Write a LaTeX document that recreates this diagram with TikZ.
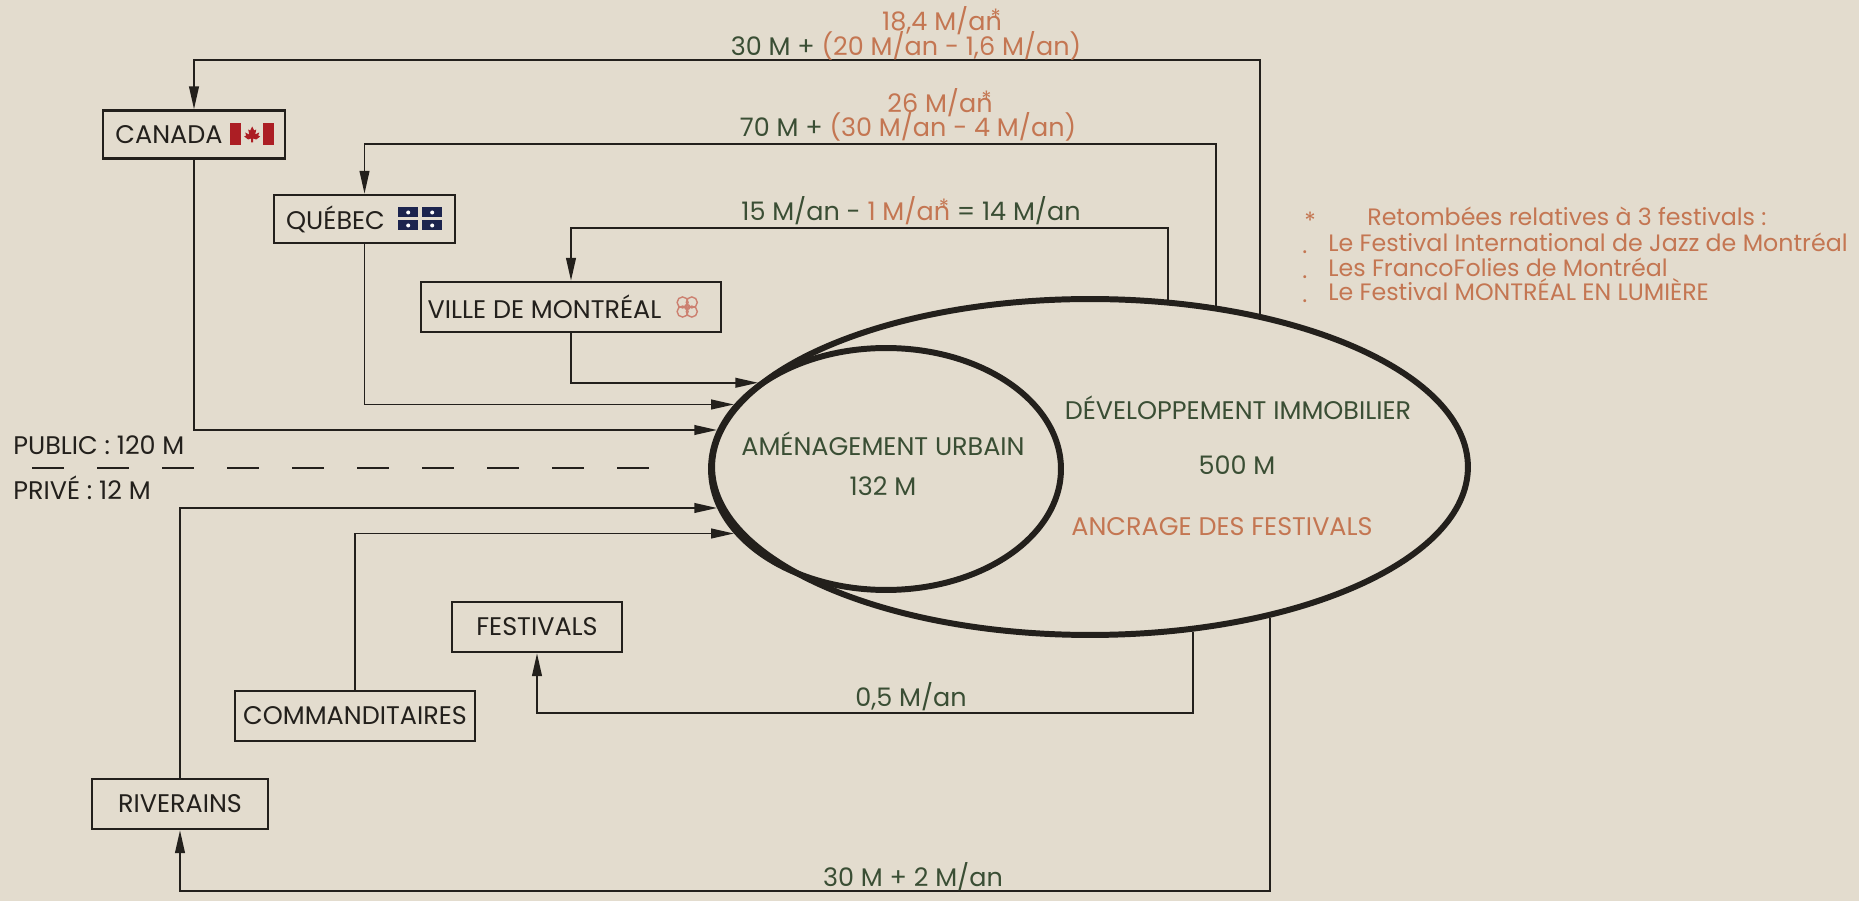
\documentclass[tikz,border=0pt]{standalone}
\usepackage{fontspec}
\setmainfont{Poppins}
\usetikzlibrary{arrows.meta,
                shapes.geometric}

\definecolor{fond}{RGB}{227,220,206}
\definecolor{encre}{RGB}{35,32,28}
\definecolor{vert}{RGB}{58,78,52}
\definecolor{ocre}{RGB}{196,118,82}
\definecolor{rougeca}{RGB}{172,30,36}
\definecolor{bleuqc}{RGB}{28,36,78}
\definecolor{rosette}{RGB}{204,128,112}

\newcommand{\etoile}{\llap{\raisebox{3.5pt}{\fontsize{12pt}{12pt}\selectfont *}\kern0.5pt}}

\tikzset{
  acteur/.style={draw=encre, line width=1.4pt, minimum height=0.96cm, inner sep=0pt, text=encre},
  zone/.style={draw=encre, ellipse, line width=3.4pt, inner sep=0pt},
  flux/.style={draw=encre, line width=1.1pt, -{Triangle[length=13pt, width=5.5pt]}},
  montant/.style={anchor=base, inner sep=0pt, text=vert},
  legende/.style={anchor=base west, inner sep=0pt, text=ocre, font=\fontsize{13.5pt}{15pt}\selectfont},
  drapeau ca/.pic={
    \fill[rougeca] (-22,-11) rectangle (-11,11);
    \fill[rougeca] (11,-11) rectangle (22,11);
    \fill[rougeca] (0,-8) -- (2,-4) -- (4,-5) -- (3,0) -- (7,-2) -- (6,1) -- (8,2) -- (4,5)
      -- (1,4) -- (1,8) -- (-1,8) -- (-1,4) -- (-4,5) -- (-8,2) -- (-6,1) -- (-7,-2)
      -- (-3,0) -- (-4,-5) -- (-2,-4) -- cycle;
  },
  drapeau qc/.pic={
    \foreach \sx in {-1,1} \foreach \sy in {-1,1} {
      \fill[bleuqc] (\sx*2,\sy*1.5) rectangle (\sx*22,\sy*11.5);
      \fill[white] (\sx*12,\sy*6.5) circle (2);
    }
  },
  rosette/.pic={
    \foreach \a in {45,135,225,315}
      \draw[rosette, line width=0.8pt] (\a:6.5) circle (5.5);
    \draw[rosette, line width=0.8pt] (0,0) circle (2.5);
  }
}

\begin{document}
\begin{tikzpicture}[x=0.02cm, y=-0.02cm, font=\fontsize{14.5pt}{16pt}\selectfont]
   \fill[fond] (0,0) rectangle (1859,901);
   \useasboundingbox (0,0) rectangle (1859,901);

   % les deux zones
   \node[zone, minimum width=15.12cm, minimum height=6.72cm] (developpement) at (1090,467) {};
   \node[zone, minimum width=7cm, minimum height=4.84cm] (amenagement) at (886,469) {};
   \node[montant] (t amenagement) at (883,456) {AMÉNAGEMENT URBAIN};
   \node[montant] (m amenagement) at (883,496) {132 M};
   \node[montant] (t developpement) at (1238,420) {DÉVELOPPEMENT IMMOBILIER};
   \node[montant] (m developpement) at (1237,475) {500 M};
   \node[montant, text=ocre] (t ancrage) at (1222,536) {ANCRAGE DES FESTIVALS};

   % acteurs
   \node[acteur, minimum width=3.64cm] (canada) at (194,134.5) {CANADA\kern1cm};
   \node[acteur, minimum width=3.62cm] (quebec) at (364.5,219) {QUÉBEC\kern1.16cm};
   \node[acteur, minimum width=6cm, minimum height=1cm] (ville) at (571,307) {VILLE DE MONTRÉAL\kern1.06cm};
   \node[acteur, minimum width=3.4cm, minimum height=1cm] (festivals) at (537,627) {FESTIVALS};
   \node[acteur, minimum width=4.8cm, minimum height=1cm] (commanditaires) at (355,716) {COMMANDITAIRES};
   \node[acteur, minimum width=3.52cm, minimum height=1cm] (riverains) at (180,804) {RIVERAINS};
   \pic at ([xshift=-0.68cm]canada.east) {drapeau ca};
   \pic at ([xshift=-0.72cm]quebec.east) {drapeau qc};
   \pic at ([xshift=-0.7cm]ville.east) {rosette};

   % public / prive
   \node[anchor=base west, inner sep=0pt, text=encre] (public) at (13,455) {PUBLIC : 120 M};
   \node[anchor=base west, inner sep=0pt, text=encre] (prive) at (13,500) {PRIVÉ : 12 M};
   \coordinate (sep g) at (32,468);
   \coordinate (sep d) at (649,468);
   \draw[encre, line width=1.1pt, dash pattern=on 18.2pt off 18.8pt] (sep g) -- (sep d);

   % financements
   \draw[flux] (canada.south) |- (amenagement.167);
   \draw[flux] (quebec.south) |- (amenagement.157);
   \draw[flux] (ville.south) |- (amenagement.146);
   \draw[flux] (riverains.north) |- (amenagement.193);
   \draw[flux] (commanditaires.north) |- (amenagement.203);

   % retombees
   \coordinate (rang ca) at (0,60);
   \coordinate (rang qc) at (0,144);
   \coordinate (rang ville) at (0,228);
   \coordinate (rang fest) at (0,713);
   \coordinate (rang riv) at (0,891);
   \draw[flux] (developpement.42) |- (canada.north |- rang ca) -- (canada.north);
   \draw[flux] (developpement.52) |- (quebec.north |- rang qc) -- (quebec.north);
   \draw[flux] (developpement.65) |- (ville.north |- rang ville) -- (ville.north);
   \draw[flux] (developpement.302) |- (festivals.south |- rang fest) -- (festivals.south);
   \draw[flux] (developpement.320) |- (riverains.south |- rang riv) -- (riverains.south);

   \node[montant, text=ocre] (m ca haut) at (942,31) {18,4 M/an\etoile};
   \node[montant] (m ca) at (906,56) {30 M + \textcolor{ocre}{(20 M/an - 1,6 M/an)}};
   \node[montant, text=ocre] (m qc haut) at (940,113) {26 M/an\etoile};
   \node[montant] (m qc) at (908,137) {70 M + \textcolor{ocre}{(30 M/an - 4 M/an)}};
   \node[montant] (m ville) at (911,221) {15 M/an - \textcolor{ocre}{1 M/an\etoile} = 14 M/an};
   \node[montant] (m fest) at (911,706) {0,5 M/an};
   \node[montant] (m riv) at (913,886) {30 M + 2 M/an};

   % legende
   \node[legende, anchor=base] (etoile) at (1310,230) {*};
   \node[legende] (retombees) at (1367,226) {Retombées relatives à 3 festivals :};
   \foreach \y/\nom/\txt in {252/jazz/Le Festival International de Jazz de Montréal,
                             277/franco/Les FrancoFolies de Montréal,
                             301/lumiere/Le Festival MONTRÉAL EN LUMIÈRE} {
     \node[legende] (point \nom) at (1302,\y+2) {.};
     \node[legende] (\nom) at (1328,\y) {\txt};
   }
\end{tikzpicture}
\end{document}
